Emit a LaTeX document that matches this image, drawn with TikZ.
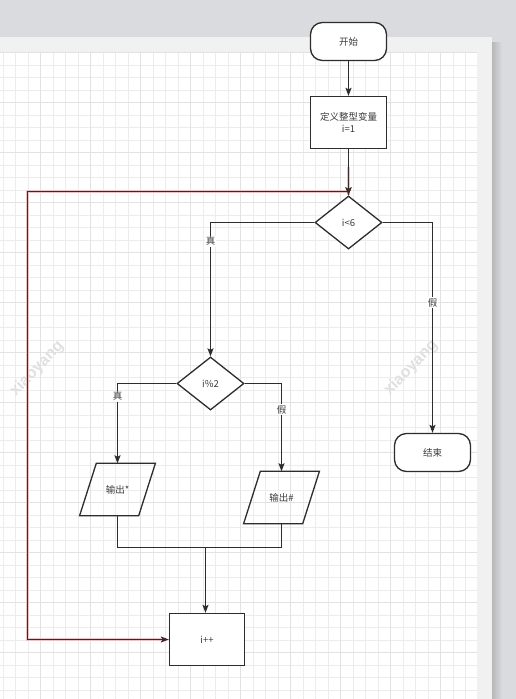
\documentclass[tikz,border=0pt]{standalone}
\usepackage{fontspec}
\setmainfont{Liberation Sans}
\newfontfamily\cjk{Noto Sans CJK SC}
\usetikzlibrary{arrows.meta,shapes.geometric}
\definecolor{bgc}{RGB}{218,219,222}
\definecolor{pagec}{RGB}{241,241,241}
\definecolor{minorc}{RGB}{236,236,236}
\definecolor{majorc}{RGB}{226,226,226}
\definecolor{linec}{RGB}{45,45,45}
\definecolor{txtc}{RGB}{60,60,60}
\definecolor{loopc}{RGB}{62,40,40}
\definecolor{haloc}{RGB}{232,196,196}
\tikzset{
  base/.style={draw=linec, line width=1.3pt, fill=white, text=txtc, font=\cjk\fontsize{9.5}{12.5}\selectfont, align=center, inner sep=0pt},
  roundbox/.style={base, rectangle, rounded corners=12pt, minimum width=76pt, minimum height=38pt},
  procbox/.style={base, rectangle, minimum width=76pt, minimum height=52pt},
  decision/.style={base, diamond, minimum width=67pt, minimum height=53pt},
  iobox/.style={text=txtc, font=\cjk\fontsize{9.5}{12.5}\selectfont, inner sep=0pt, minimum width=58.7pt, minimum height=52pt},
  arr/.style={draw=linec, line width=1.3pt, -{Stealth[length=8pt,width=6pt,inset=1.5pt]}},
  conn/.style={draw=linec, line width=1.3pt},
  lbl/.style={fill=white, text=txtc, font=\cjk\fontsize{9.5}{10}\selectfont, inner sep=1pt},
  halo/.style={draw=haloc, line width=3.6pt},
  looparr/.style={draw=loopc, line width=1.3pt, -{Stealth[length=8pt,width=6pt,inset=1.5pt]}},
  wmark/.style={text=black!12, font=\bfseries\fontsize{16}{16}\selectfont, rotate=46}
}
\begin{document}
\begin{tikzpicture}[x=1pt,y=-1pt]
\useasboundingbox (0,0) rectangle (516,699);
% background
\fill[bgc] (0,0) rectangle (516,699);
\shade[left color=black!28, right color=bgc] (492,42) rectangle (502,699);
\fill[pagec] (0,36.7) rectangle (492.3,699);
\fill[white] (0,51.7) rectangle (477.3,699);
% grid
\foreach \x in {3.2,15.7,...,477} \draw[minorc, line width=1pt] (\x,51.7) -- (\x,699);
\foreach \y in {52.7,65.2,...,699} \draw[minorc, line width=1pt] (0,\y) -- (477.3,\y);
\foreach \x in {40.7,90.7,...,477} \draw[majorc, line width=1.1pt] (\x,51.7) -- (\x,699);
\foreach \y in {52.7,102.7,...,699} \draw[majorc, line width=1.1pt] (0,\y) -- (477.3,\y);
% watermarks
\node[wmark] (wm1) at (37,369) {xiaoyang};
\node[wmark] (wm2) at (411,368) {xiaoyang};
% nodes
\node[roundbox] (start) at (348.5,41.5) {开始};
\node[procbox] (def) at (348.5,122.5) {定义整型变量\\i=1};
\node[decision] (d1) at (348.5,222.5) {i<6};
\node[roundbox] (end) at (432.5,452.5) {结束};
\node[decision] (d2) at (210.5,383.5) {i\%2};
\node[iobox] (o1) at (117.5,489.5) {输出*};
\node[iobox] (o2) at (281.5,497.5) {输出\#};
\node[procbox, minimum width=75pt] (inc) at (207,639.5) {i++};
\foreach \n in {o1,o2}
  \draw[draw=linec, line width=1.3pt]
    ([xshift=8.35pt]\n.north west) -- ([xshift=8.35pt]\n.north east)
    -- ([xshift=-8.35pt]\n.south east) -- ([xshift=-8.35pt]\n.south west) -- cycle;
\coordinate (m) at (205.5,547.5);
\coordinate (c1) at (27.5,191.5);
% connectors
\draw[arr] (start) -- (def);
\draw[arr] (def) -- (d1);
\draw[arr] (d1.west) -| node[lbl, pos=0.57] {真} (d2.north);
\draw[arr] (d1.east) -| node[lbl, pos=0.69] {假} (end.north);
\draw[arr] (d2.west) -| node[lbl, pos=0.58] {真} (o1.north);
\draw[arr] (d2.east) -| node[lbl, pos=0.65] {假} (o2.north);
\draw[conn] (o1.south) |- (m) -| (o2.south);
\draw[arr] (m) -- (m |- inc.north);
% loop edge
\draw[halo] (d1.north) |- (c1) |- ([xshift=-8pt]inc.west);
\draw[halo] ([yshift=28pt]d1.north) -- (d1.north);
\draw[looparr] (d1.north) |- (c1) |- (inc.west);
\draw[draw=loopc, line width=1.3pt, -{Stealth[length=8pt,width=6pt,inset=1.5pt]}] ([yshift=28pt]d1.north) -- (d1.north);
\end{tikzpicture}
\end{document}
